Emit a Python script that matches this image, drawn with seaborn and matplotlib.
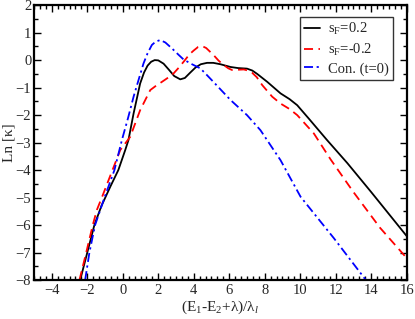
import matplotlib
matplotlib.use('Agg')
import matplotlib.pyplot as plt
import seaborn as sns
import pandas as pd
from matplotlib.ticker import MultipleLocator, AutoMinorLocator

# curves
x_pos = [-2.4, -2.0, -1.6, -1.2, -0.7, -0.25, 0.14, 0.32, 0.61, 0.98, 1.2, 1.4, 1.6, 1.8,
         2.0, 2.3, 2.6, 2.9, 3.24, 3.5, 3.81, 4.1, 4.4, 4.75, 5.1, 5.5, 6.07, 6.5, 7.0,
         7.3, 7.57, 8.14, 8.89, 9.4, 9.83, 10.5, 11.5, 12.66, 14.0, 15.0, 16.0]
y_pos = [-8.0, -7.0, -6.0, -5.3, -4.6, -4.0, -3.27, -2.91, -1.94, -0.85, -0.45, -0.2, -0.06, 0.0,
         -0.01, -0.13, -0.35, -0.58, -0.7, -0.65, -0.45, -0.27, -0.15, -0.1, -0.1, -0.15, -0.25, -0.29, -0.31,
         -0.38, -0.5, -0.79, -1.21, -1.42, -1.64, -2.14, -2.9, -3.75, -4.8, -5.6, -6.4]

x_neg = [-2.44, -2.06, -1.69, -1.46, -1.18, -0.58, -0.14, 0.42, 0.98, 1.55, 1.9, 2.21, 2.55,
         2.87, 3.15, 3.43, 3.65, 3.81, 4.0, 4.25, 4.47, 4.7, 5.12, 5.4, 5.69, 5.95, 6.16,
         6.5, 6.82, 7.05, 7.29, 7.55, 7.86, 8.42, 8.89, 9.4, 9.83, 10.77, 11.7, 13.0, 14.5, 16.0]
y_neg = [-8.0, -7.0, -6.0, -5.45, -5.0, -4.0, -3.27, -2.79, -1.82, -1.09, -0.92, -0.79, -0.64,
         -0.48, -0.28, -0.06, 0.12, 0.24, 0.35, 0.48, 0.51, 0.44, 0.18, -0.02, -0.18, -0.3, -0.36,
         -0.35, -0.34, -0.38, -0.46, -0.62, -0.91, -1.33, -1.58, -1.78, -2.0, -2.67, -3.6, -4.8, -6.1, -7.2]

x_con = [-2.12, -1.88, -1.56, -1.03, -0.47, -0.05, 0.3, 0.61, 0.9, 1.17, 1.4, 1.64, 1.85,
         2.11, 2.4, 2.78, 3.1, 3.43, 3.9, 4.37, 4.75, 5.12, 6.07, 7.0, 7.76, 8.89, 10.02,
         11.9, 13.7]
y_con = [-8.0, -7.0, -6.0, -5.0, -4.0, -2.91, -2.1, -1.33, -0.7, -0.12, 0.25, 0.55, 0.67,
         0.73, 0.64, 0.42, 0.22, 0.02, -0.15, -0.3, -0.55, -0.8, -1.45, -2.0, -2.55, -3.64, -4.97,
         -6.48, -8.0]

labels = [r's$_\mathregular{F}$=0.2', r's$_\mathregular{F}$=-0.2', 'Con. (t=0)']

sns.set_style('ticks')
plt.rcParams['font.family'] = ['Liberation Serif', 'DejaVu Serif']
plt.rcParams['mathtext.fontset'] = 'custom'
plt.rcParams['mathtext.rm'] = 'Liberation Serif'
plt.rcParams['mathtext.it'] = 'Liberation Serif:italic'

df = pd.concat([
    pd.DataFrame({'x': x_pos, 'y': y_pos, 'curve': labels[0]}),
    pd.DataFrame({'x': x_neg, 'y': y_neg, 'curve': labels[1]}),
    pd.DataFrame({'x': x_con, 'y': y_con, 'curve': labels[2]}),
])

fig = plt.figure(figsize=(4.15, 3.19), dpi=100)
ax = fig.add_axes([0.082, 0.122, 0.898, 0.862])

styles = {labels[0]: None, labels[1]: (5, 3), labels[2]: (5, 2, 1.2, 2)}
colors = ['black', 'red', 'blue']
for lab, col in zip(labels, colors):
    sub = df[df['curve'] == lab]
    sns.lineplot(data=sub, x='x', y='y', ax=ax, color=col, lw=1.3,
                 sort=False, label=lab)
    ax.lines[-1].set_solid_joinstyle('round')
    ax.lines[-1].set_dash_joinstyle('round')
    if styles[lab] is not None:
        ax.lines[-1].set_dashes(styles[lab])

ax.xaxis.set_major_locator(MultipleLocator(2))
ax.xaxis.set_minor_locator(AutoMinorLocator(6))
ax.yaxis.set_major_locator(MultipleLocator(1))
ax.yaxis.set_minor_locator(AutoMinorLocator(2))
ax.set_xlim(-5, 16)
ax.set_ylim(-8, 2)
ax.tick_params(which='both', direction='in', top=True, right=True, labelsize=10.5,
               color='black', width=1)
ax.tick_params(axis='y', pad=2)
ax.tick_params(axis='x', pad=3)
ax.tick_params(which='major', length=5)
ax.tick_params(which='minor', length=3)
for s in ax.spines.values():
    s.set_linewidth(1.6)
    s.set_color('black')

ax.set_xlabel(r'(E$_\mathregular{1}$-E$_\mathregular{2}$+λ)/λ$_{l}$', fontsize=11, labelpad=1)
ax.set_ylabel('Ln [κ]', fontsize=11, va='center')
ax.yaxis.set_label_coords(-0.0685, 0.5)

leg = ax.legend(loc='upper right', fontsize=10.5, frameon=True, fancybox=False,
                edgecolor='black', handlelength=1.05, borderpad=0.3, labelspacing=0.3,
                handletextpad=0.55, borderaxespad=0, bbox_to_anchor=(0.963, 0.957))
leg.get_frame().set_linewidth(1.0)

fig.savefig('out.png', dpi=100)
